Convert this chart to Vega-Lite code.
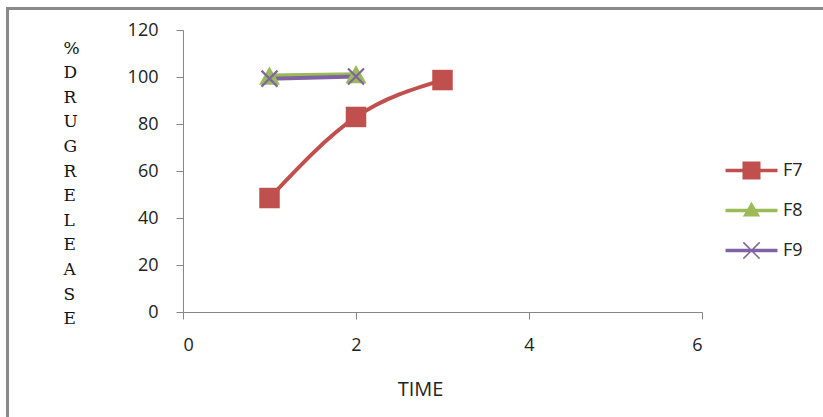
{
  "$schema": "https://vega.github.io/schema/vega-lite/v6.json",
  "width": 519,
  "height": 282,
  "autosize": {"type": "none"},
  "padding": {"left": 183, "top": 30, "right": 121, "bottom": 105},
  "background": "white",
  "config": {
    "view": {"stroke": null},
    "axis": {
      "grid": false,
      "domainColor": "#868686",
      "tickColor": "#868686",
      "domainWidth": 1,
      "tickWidth": 1,
      "tickSize": 7,
      "labelFont": "Open Sans",
      "labelFontSize": 18,
      "labelColor": "#222222",
      "titleFont": "Open Sans",
      "titleFontWeight": "normal",
      "titleColor": "#222222"
    }
  },
  "data": {
    "values": [
      {"series": "F7", "time": 1, "release": 48.5},
      {"series": "F7", "time": 2, "release": 83},
      {"series": "F7", "time": 3, "release": 98.7},
      {"series": "F8", "time": 1, "release": 100.6},
      {"series": "F8", "time": 2, "release": 101.2},
      {"series": "F9", "time": 1, "release": 99.3},
      {"series": "F9", "time": 2, "release": 100.2}
    ]
  },
  "encoding": {
    "x": {
      "field": "time",
      "type": "quantitative",
      "scale": {"domain": [0, 6], "nice": false, "zero": false},
      "axis": {
        "values": [0, 2, 4, 6],
        "title": "TIME",
        "titleFontSize": 20,
        "titleX": 237,
        "titleY": 77,
        "titleBaseline": "middle",
        "titleAlign": "center",
        "labelPadding": 17
      }
    },
    "y": {
      "field": "release",
      "type": "quantitative",
      "scale": {"domain": [0, 120], "nice": false},
      "axis": {
        "values": [0, 20, 40, 60, 80, 100, 120],
        "labelPadding": 18,
        "title": ["%", "D", "R", "U", "G", "\u00a0R", "E", "L", "E", "A", "S", "E"],
        "titleFont": "DejaVu Serif",
        "titleFontSize": 17,
        "titleLineHeight": 24.6,
        "titleAngle": 0,
        "titleAlign": "left",
        "titleBaseline": "top",
        "titleX": -120,
        "titleY": 10,
        "titleColor": "#111111"
      }
    }
  },
  "layer": [
    {
      "mark": {"type": "rect", "filled": false, "stroke": "#8a8a8a", "strokeWidth": 2.5, "clip": false},
      "encoding": {
        "x": {"datum": -2.03},
        "x2": {"datum": 10},
        "y": {"datum": 129},
        "y2": {"datum": -60}
      }
    },
    {
      "mark": {"type": "line", "strokeWidth": 4, "interpolate": "monotone"},
      "encoding": {
        "color": {
          "field": "series",
          "type": "nominal",
          "scale": {"domain": ["F7", "F8", "F9"], "range": ["#C0504D", "#9BBB59", "#8064A2"]},
          "legend": {
            "orient": "none",
            "legendX": 551,
            "legendY": 123,
            "title": null,
            "padding": 0,
            "symbolSize": 1200,
            "rowPadding": 13,
            "labelOffset": 14,
            "labelFont": "Open Sans",
            "labelFontSize": 18,
            "labelColor": "#222222",
            "encode": {
              "symbols": {
                "update": {
                  "shape": {"signal": "datum.value === 'F7' ? 'M-1.5,-0.1H1.5V0.1H-1.5Z M-0.52,-0.52H0.52V0.52H-0.52Z' : datum.value === 'F8' ? 'M-1.5,-0.1H1.5V0.1H-1.5Z M0,-0.5L0.5,0.35H-0.5Z' : 'M-1.5,-0.1H1.5V0.1H-1.5Z M-0.5,-0.44L-0.44,-0.5L0.5,0.44L0.44,0.5Z M0.44,-0.5L0.5,-0.44L-0.44,0.5L-0.5,0.44Z'"},
                  "fill": {"signal": "datum.value === 'F7' ? '#C0504D' : datum.value === 'F8' ? '#9BBB59' : '#8064A2'"},
                  "stroke": {"value": "transparent"},
                  "strokeWidth": {"value": 0},
                  "size": {"value": 1200}
                }
              }
            }
          }
        }
      }
    },
    {
      "transform": [{"filter": "datum.series !== 'F9'"}],
      "mark": {"type": "point", "filled": true, "opacity": 1},
      "encoding": {
        "color": {"field": "series", "type": "nominal", "legend": null},
        "shape": {
          "field": "series",
          "type": "nominal",
          "scale": {"domain": ["F7", "F8"], "range": ["square", "triangle-up"]},
          "legend": null
        },
        "size": {
          "field": "series",
          "type": "nominal",
          "scale": {"domain": ["F7", "F8"], "range": [420, 440]},
          "legend": null
        }
      }
    },
    {
      "transform": [{"filter": "datum.series === 'F9'"}],
      "mark": {
        "type": "point",
        "filled": false,
        "shape": "M-1,-1L1,1M-1,1L1,-1",
        "size": 256,
        "strokeWidth": 2.2,
        "color": "#8064A2",
        "opacity": 1
      }
    }
  ],
  "resolve": {"scale": {"shape": "independent", "size": "independent"}}
}
